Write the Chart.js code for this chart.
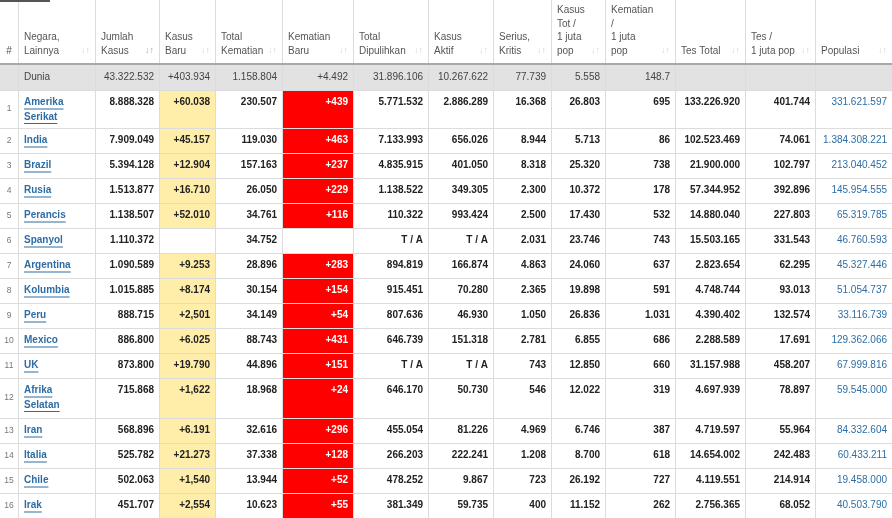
<!DOCTYPE html>
<html><head><meta charset="utf-8">
<script src="https://cdn.jsdelivr.net/npm/chart.js@4"></script>
<style>html,body{margin:0;padding:0;background:#fff}#w{width:892px;height:518px}</style>
</head><body><div id="w"><canvas id="c"></canvas></div>
<script>
const headers = [["#"],["Negara,","Lainnya"],["Jumlah","Kasus"],["Kasus","Baru"],["Total","Kematian"],["Kematian","Baru"],["Total","Dipulihkan"],["Kasus","Aktif"],["Serius,","Kritis"],["Kasus","Tot /","1 juta","pop"],["Kematian","/","1 juta","pop"],["Tes Total"],["Tes /","1 juta pop"],["Populasi"]];
const world = ["","Dunia","43.322.532","+403.934","1.158.804","+4.492","31.896.106","10.267.622","77.739","5.558","148.7","","",""];
const countries = [["Amerika","Serikat"],["India"],["Brazil"],["Rusia"],["Perancis"],["Spanyol"],["Argentina"],["Kolumbia"],["Peru"],["Mexico"],["UK"],["Afrika","Selatan"],["Iran"],["Italia"],["Chile"],["Irak"]];
const totalCases = ["8.888.328","7.909.049","5.394.128","1.513.877","1.138.507","1.110.372","1.090.589","1.015.885","888.715","886.800","873.800","715.868","568.896","525.782","502.063","451.707"];
const newCases = ["+60.038","+45.157","+12.904","+16.710","+52.010","","+9.253","+8.174","+2,501","+6.025","+19.790","+1,622","+6.191","+21.273","+1,540","+2,554"];
const totalDeaths = ["230.507","119.030","157.163","26.050","34.761","34.752","28.896","30.154","34.149","88.743","44.896","18.968","32.616","37.338","13.944","10.623"];
const newDeaths = ["+439","+463","+237","+229","+116","","+283","+154","+54","+431","+151","+24","+296","+128","+52","+55"];
const recovered = ["5.771.532","7.133.993","4.835.915","1.138.522","110.322","T / A","894.819","915.451","807.636","646.739","T / A","646.170","455.054","266.203","478.252","381.349"];
const active = ["2.886.289","656.026","401.050","349.305","993.424","T / A","166.874","70.280","46.930","151.318","T / A","50.730","81.226","222.241","9.867","59.735"];
const critical = ["16.368","8.944","8.318","2.300","2.500","2.031","4.863","2.365","1.050","2.781","743","546","4.969","1.208","723","400"];
const casesPerM = ["26.803","5.713","25.320","10.372","17.430","23.746","24.060","19.898","26.836","6.855","12.850","12.022","6.746","8.700","26.192","11.152"];
const deathsPerM = ["695","86","738","178","532","743","637","591","1.031","686","660","319","387","618","727","262"];
const tests = ["133.226.920","102.523.469","21.900.000","57.344.952","14.880.040","15.503.165","2.823.654","4.748.744","4.390.402","2.288.589","31.157.988","4.697.939","4.719.597","14.654.002","4.119.551","2.756.365"];
const testsPerM = ["401.744","74.061","102.797","392.896","227.803","331.543","62.295","93.013","132.574","17.691","458.207","78.897","55.964","242.483","214.914","68.052"];
const population = ["331.621.597","1.384.308.221","213.040.452","145.954.555","65.319.785","46.760.593","45.327.446","51.054.737","33.116.739","129.362.066","67.999.816","59.545.000","84.332.604","60.433.211","19.458.000","40.503.790"];

// layout (table grid edges in scale units)
const colEdges = [0,18,95,159,215,282,353,428,493,551,605,675,745,815,892];
const rowEdges = [0,64,90,128,153,178,203,228,253,278,303,328,353,378,418,443,468,493,518];

const FONT = '"Liberation Sans", Arial, sans-serif';
const tablePlugin = {
  id:'table',
  afterDraw(chart){
    const ctx=chart.ctx, xs=chart.scales.x, ys=chart.scales.y;
    const X=v=>xs.getPixelForValue(v), Y=v=>ys.getPixelForValue(v);
    const nC=colEdges.length-1;
    ctx.save();
    ctx.fillStyle='#e2e2e2';
    ctx.fillRect(X(0),Y(rowEdges[1]),X(892)-X(0),Y(rowEdges[2])-Y(rowEdges[1]));
    for(let i=0;i<countries.length;i++){
      const t=Y(rowEdges[i+2]), b=Y(rowEdges[i+3]);
      if(newCases[i]){ctx.fillStyle='#ffeeaa';ctx.fillRect(X(colEdges[3]),t,X(colEdges[4])-X(colEdges[3]),b-t);}
      if(newDeaths[i]){ctx.fillStyle='#ff0000';ctx.fillRect(X(colEdges[5]),t,X(colEdges[6])-X(colEdges[5]),b-t);}
    }
    ctx.strokeStyle='#dcdcdc';ctx.lineWidth=1;
    for(let c=1;c<nC;c++){const x=Math.round(X(colEdges[c]))+0.5;ctx.beginPath();ctx.moveTo(x,0);ctx.lineTo(x,Y(518));ctx.stroke();}
    for(let r=2;r<rowEdges.length-1;r++){const y=Math.round(Y(rowEdges[r]))+0.5;ctx.beginPath();ctx.moveTo(0,y);ctx.lineTo(X(892),y);ctx.stroke();}
    ctx.strokeStyle='#a8a8a8';ctx.lineWidth=2;
    ctx.beginPath();ctx.moveTo(0,Y(64));ctx.lineTo(X(892),Y(64));ctx.stroke();
    ctx.strokeStyle='#555';ctx.lineWidth=2;ctx.beginPath();ctx.moveTo(0,1);ctx.lineTo(50,1);ctx.stroke();
    ctx.textBaseline='middle';
    headers.forEach((h,c)=>{
      const l=X(colEdges[c]), r=X(colEdges[c+1]);
      ctx.font='10px '+FONT;ctx.fillStyle='#555';
      if(c===0){ctx.textAlign='center';ctx.fillText(h[0],(l+r)/2,Y(51));return;}
      ctx.textAlign='left';
      h.forEach((s,k)=>ctx.fillText(s,l+6,Y(51-(h.length-1-k)*13.5)));
      ctx.font='9px '+FONT;ctx.fillStyle=c===2?'#aaa':'#d6d6d6';ctx.textAlign='right';
      ctx.fillText('↓↑',r-5,Y(51));
    });
    ctx.font='10px '+FONT;ctx.fillStyle='#444';
    world.forEach((s,c)=>{if(!s)return;const l=X(colEdges[c]),r=X(colEdges[c+1]);
      if(c===1){ctx.textAlign='left';ctx.fillText(s,l+6,Y(77));}else{ctx.textAlign='right';ctx.fillText(s,r-5,Y(77));}});
    const cols=[totalCases,newCases,totalDeaths,newDeaths,recovered,active,critical,casesPerM,deathsPerM,tests,testsPerM,population];
    countries.forEach((name,i)=>{
      const top=rowEdges[i+2], yc=Y(top+12.5), bot=rowEdges[i+3];
      ctx.font='8.5px '+FONT;ctx.fillStyle='#777';ctx.textAlign='center';
      ctx.fillText(String(i+1),X(9),Y((top+bot)/2));
      ctx.font='bold 10px '+FONT;ctx.fillStyle='#2e6da4';ctx.textAlign='left';
      name.forEach((s,k)=>{const y=Y(top+12.5+k*14.5);ctx.fillText(s,X(24),y);
        const w=ctx.measureText(s).width;ctx.fillRect(X(24),y+6,w,1);});
      cols.forEach((arr,k)=>{const c=k+2;const s=arr[i];if(!s)return;
        const r=X(colEdges[c+1]);
        ctx.fillStyle=c===5?'#fff':(c===13?'#2e6da4':'#222');
        ctx.font=(c===13?'':'bold ')+'10px '+FONT;
        ctx.textAlign='right';ctx.fillText(s,r-5,yc);});
    });
    ctx.restore();
  }
};
new Chart(document.getElementById('c'),{
  type:'bar',
  data:{labels:[],datasets:[{data:[]}]},
  options:{responsive:true,maintainAspectRatio:false,animation:false,
    layout:{padding:0},
    plugins:{legend:{display:false},tooltip:{enabled:false}},
    scales:{x:{type:'linear',min:0,max:892,display:false,offset:false,grid:{offset:false}},
            y:{type:'linear',min:0,max:518,reverse:true,display:false,offset:false,grid:{offset:false}}}},
  plugins:[tablePlugin]
});
</script></body></html>
